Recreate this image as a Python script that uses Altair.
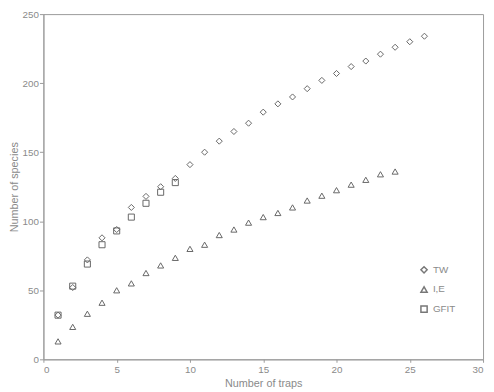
import altair as alt
import pandas as pd

tw_x = list(range(1, 27))
tw_y = [32, 52, 72, 88, 94, 110, 118, 125, 131, 141, 150, 158, 165, 171, 179,
        185, 190, 196, 202, 207, 212, 216, 221, 226, 230, 234]
ie_x = list(range(1, 25))
ie_y = [13, 23.5, 33, 41, 50, 55, 62.5, 68, 73.5, 80, 83, 90, 94, 99, 103,
        106, 110, 115, 118.5, 122.5, 126.5, 130, 134, 136]
gf_x = list(range(1, 10))
gf_y = [32, 53, 69, 83, 93, 103, 113, 121, 128]
series = ["TW", "I,E", "GFIT"]
x_ticks = [0, 5, 10, 15, 20, 25, 30]
y_ticks = [0, 50, 100, 150, 200, 250]

rows = []
for x, y in zip(tw_x, tw_y):
    rows.append({"traps": x, "species": y, "method": "TW"})
for x, y in zip(ie_x, ie_y):
    rows.append({"traps": x, "species": y, "method": "I,E"})
for x, y in zip(gf_x, gf_y):
    rows.append({"traps": x, "species": y, "method": "GFIT"})
df = pd.DataFrame(rows)

font = "Liberation Sans"
gray = "#8a8a8a"

chart = alt.Chart(df).mark_point(filled=False, strokeWidth=1, opacity=1).encode(
    x=alt.X("traps:Q", title="Number of traps",
            scale=alt.Scale(domain=[0, 30], nice=False, zero=True),
            axis=alt.Axis(values=x_ticks, grid=False, tickSize=3, labelPadding=2,
                          titlePadding=4)),
    y=alt.Y("species:Q", title="Number of species",
            scale=alt.Scale(domain=[0, 250], nice=False),
            axis=alt.Axis(values=y_ticks, grid=False, tickSize=4, labelPadding=1,
                          titlePadding=3)),
    shape=alt.Shape("method:N", sort=series,
                    scale=alt.Scale(domain=series,
                                    range=["diamond", "triangle-up", "square"]),
                    legend=alt.Legend(title=None, orient="none", legendX=382,
                                      legendY=255, rowPadding=7,
                                      symbolSize=40, symbolStrokeColor="#777",
                                      labelFontSize=10, labelColor=gray,
                                      labelFont=font)),
    size=alt.value(38),
    color=alt.value("#666"),
).properties(
    width=447, height=351,
    autosize=alt.AutoSizeParams(type="none"),
    padding={"left": 36, "top": 3, "right": 3, "bottom": 30},
).configure_view(
    stroke="#9a9a9a", strokeWidth=1
).configure_axis(
    domainColor="#9a9a9a", tickColor="#9a9a9a", labelColor=gray,
    titleColor=gray, labelFont=font, titleFont=font, labelFontSize=10,
    titleFontSize=11, titleFontWeight="normal"
)

chart.save("out.html", embed_options={"renderer": "svg", "actions": False})
